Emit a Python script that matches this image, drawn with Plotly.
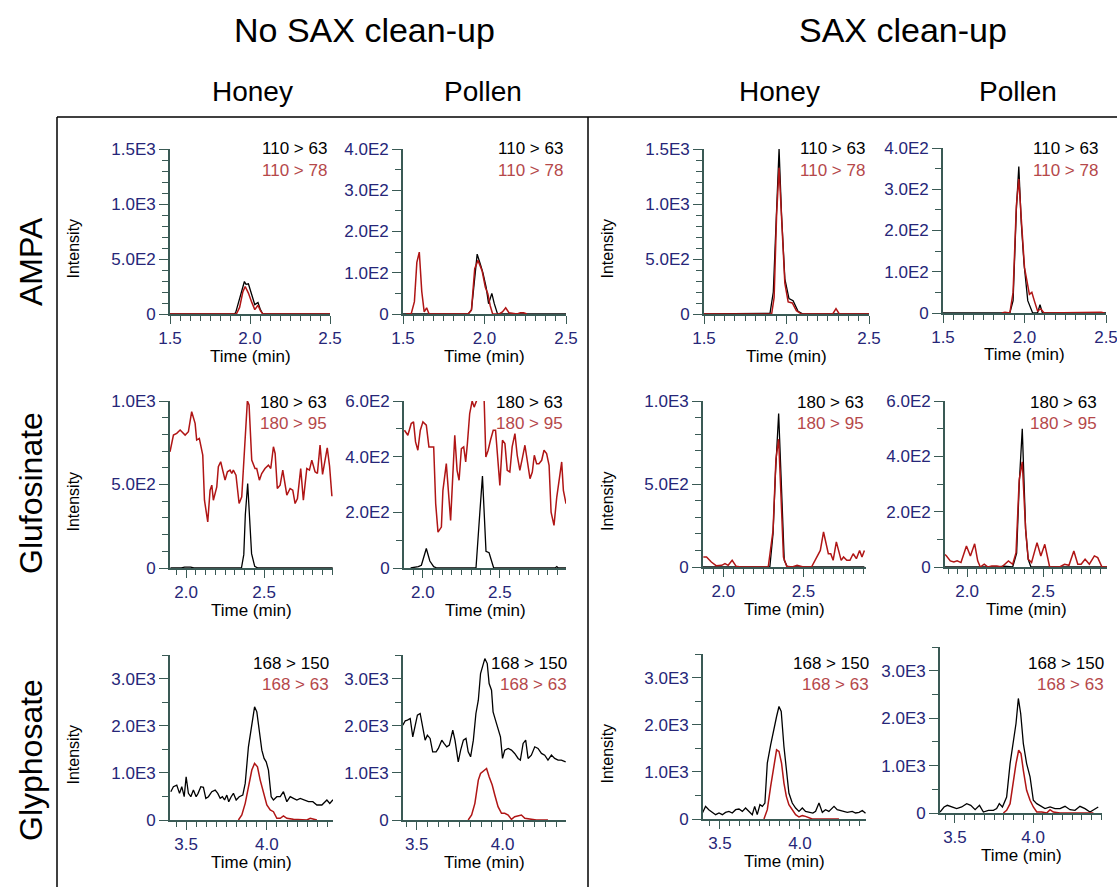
import math
import plotly.graph_objects as go

W, H = 1117, 887

# ---------------- DATA ----------------
# AMPA, honey, no SAX (black = 110 > 63, red = 110 > 78)
A_HN_T1 = [1.50, 1.90, 1.91, 1.93, 1.965, 1.975, 1.99, 2.01, 2.03, 2.05, 2.065, 2.08, 2.44, 2.45, 2.46, 2.50]
A_HN_Y1 = [0, 0, 10, 120, 295, 270, 275, 180, 85, 105, 40, 0, 0, 5, 0, 0]
A_HN_T2 = [1.50, 1.915, 1.935, 1.955, 1.97, 1.99, 2.01, 2.03, 2.05, 2.065, 2.08, 2.50]
A_HN_Y2 = [0, 0, 60, 200, 250, 190, 110, 40, 80, 30, 0, 0]

# AMPA, pollen, no SAX
A_PN_T1 = [1.50, 1.90, 1.92, 1.94, 1.955, 1.975, 1.99, 2.01, 2.025, 2.045, 2.06, 2.08, 2.50]
A_PN_Y1 = [0, 0, 10, 90, 145, 120, 100, 65, 25, 50, 25, 0, 0]
A_PN_T2 = [1.52, 1.55, 1.57, 1.585, 1.60, 1.615, 1.63, 1.645, 1.66, 1.90, 1.92, 1.94, 1.96, 1.985, 2.005,
           2.02, 2.035, 2.05, 2.09, 2.11, 2.13, 2.15, 2.20, 2.22, 2.24, 2.26]
A_PN_Y2 = [0, 0, 30, 125, 150, 55, 5, 15, 0, 0, 10, 110, 130, 105, 65, 50, 20, 0, 0, 5, 15, 3, 0, 3, 3, 0]

# AMPA, honey, SAX
A_HS_T1 = [1.50, 1.88, 1.90, 1.92, 1.94, 1.955, 1.97, 1.99, 2.015, 2.04, 2.07, 2.10, 2.50]
A_HS_Y1 = [0, 0, 5, 200, 1000, 1500, 900, 320, 140, 120, 25, 0, 0]
A_HS_T2 = [1.50, 1.91, 1.925, 1.94, 1.955, 1.97, 1.99, 2.01, 2.035, 2.06, 2.09, 2.28, 2.30, 2.32, 2.50]
A_HS_Y2 = [0, 0, 150, 900, 1330, 850, 280, 110, 100, 30, 0, 0, 48, 0, 0]

# AMPA, pollen, SAX
A_PS_T1 = [1.50, 1.91, 1.93, 1.95, 1.965, 1.98, 1.997, 2.02, 2.05, 2.08, 2.095, 2.11, 2.50]
A_PS_Y1 = [0, 0, 30, 250, 355, 220, 120, 30, 0, 0, 20, 0, 0]
A_PS_T2 = [1.86, 1.88, 1.91, 1.93, 1.95, 1.965, 1.98, 2.00, 2.03, 2.045, 2.06, 2.08, 2.10, 2.12, 2.47, 2.49]
A_PS_Y2 = [0, 2, 0, 50, 260, 325, 230, 110, 45, 50, 30, 5, 10, 0, 2, 0]

# Glufosinate, honey, no SAX (black = 180 > 63, red = 180 > 95)
G_HN_T1 = [1.90, 1.97, 1.99, 2.03, 2.05, 2.355, 2.37, 2.38, 2.395, 2.42, 2.44, 2.46, 2.94]
G_HN_Y1 = [0, 0, 5, 5, 0, 0, 80, 320, 505, 86, 10, 0, 0]
G_HN_T2 = [1.897, 1.919, 1.94, 1.962, 1.994, 2.015, 2.036, 2.058, 2.068, 2.085, 2.107, 2.118, 2.139, 2.154,
           2.165, 2.175, 2.197, 2.207, 2.222, 2.239, 2.25, 2.265, 2.282, 2.293, 2.303, 2.32, 2.34, 2.357,
           2.374, 2.393, 2.404, 2.421, 2.442, 2.453, 2.47, 2.485, 2.506, 2.528, 2.543, 2.56, 2.571, 2.585,
           2.603, 2.62, 2.646, 2.667, 2.684, 2.699, 2.714, 2.735, 2.752, 2.774, 2.791, 2.806, 2.827, 2.842,
           2.859, 2.875, 2.89, 2.905, 2.92, 2.935]
G_HN_Y2 = [696, 796, 806, 826, 796, 816, 936, 866, 766, 776, 676, 406, 276, 466,
           496, 406, 486, 606, 636, 576, 526, 576, 586, 566, 586, 556, 386, 426,
           726, 1000, 976, 646, 596, 596, 526, 566, 596, 616, 596, 726, 686, 476,
           496, 586, 436, 476, 466, 386, 416, 596, 406, 596, 586, 646, 576, 566,
           736, 560, 640, 720, 610, 430]

# Glufosinate, pollen, no SAX
G_PN_T1 = [1.92, 1.97, 1.99, 2.022, 2.045, 2.07, 2.09, 2.345, 2.37, 2.387, 2.41, 2.43, 2.46, 2.86, 2.87, 2.88, 2.93]
G_PN_Y1 = [0, 5, 10, 70, 25, 5, 0, 0, 200, 330, 60, 55, 0, 0, 5, 0, 0]
G_PN_T2 = [1.88, 1.902, 1.924, 1.939, 1.952, 1.967, 1.983, 2.0, 2.022, 2.039, 2.054, 2.07, 2.083, 2.098,
           2.12, 2.13, 2.152, 2.167, 2.18, 2.207, 2.222, 2.235, 2.25, 2.265, 2.278, 2.289, 2.304, 2.32,
           2.333, 2.348, 2.36, 2.375, 2.385, 2.396, 2.409, 2.424, 2.439, 2.457, 2.472, 2.489, 2.5, 2.517,
           2.533, 2.548, 2.565, 2.58, 2.598, 2.613, 2.63, 2.648, 2.663, 2.678, 2.696, 2.711, 2.724, 2.739,
           2.754, 2.772, 2.787, 2.804, 2.82, 2.833, 2.852, 2.87, 2.887, 2.902, 2.913, 2.93]
G_PN_Y2 = [495, 477, 519, 525, 453, 423, 495, 525, 513, 435, 435, 435, 231, 129,
           147, 279, 375, 279, 171, 477, 351, 315, 429, 435, 381, 447, 555, 600,
           578, 600, 650, 680, 660, 640, 399, 423, 459, 495, 495, 375, 297, 459,
           447, 351, 345, 435, 483, 405, 351, 399, 441, 387, 321, 345, 405, 375,
           375, 387, 423, 411, 369, 201, 153, 255, 315, 381, 279, 231]

# Glufosinate, honey, SAX
G_HS_T1 = [1.87, 2.29, 2.31, 2.325, 2.345, 2.365, 2.38, 2.40, 2.88]
G_HS_Y1 = [0, 0, 200, 560, 925, 360, 40, 0, 0]
G_HS_T2 = [1.875, 1.895, 1.925, 1.955, 1.99, 2.01, 2.03, 2.055, 2.08, 2.11, 2.28, 2.31, 2.328, 2.345,
           2.36, 2.375, 2.395, 2.43, 2.46, 2.50, 2.55, 2.585, 2.605, 2.625, 2.645, 2.655, 2.67, 2.685,
           2.705, 2.72, 2.735, 2.75, 2.77, 2.79, 2.81, 2.83, 2.85, 2.865, 2.88]
G_HS_Y2 = [60, 60, 30, 8, 10, 20, 10, 40, 4, 0, 0, 220, 650, 770,
           420, 60, 4, 0, 10, 0, 0, 60, 100, 211, 121, 80, 80, 40,
           151, 100, 40, 60, 40, 40, 80, 50, 100, 60, 100]

# Glufosinate, pollen, SAX
G_PS_T1 = [1.855, 2.20, 2.24, 2.30, 2.326, 2.343, 2.363, 2.385, 2.402, 2.42, 2.92]
G_PS_Y1 = [0, 0, 3, 0, 50, 300, 500, 136, 28, 0, 0]
G_PS_T2 = [1.855, 1.865, 1.89, 1.913, 1.935, 1.96, 1.996, 2.022, 2.05, 2.07, 2.087, 2.113, 2.137, 2.163,
           2.196, 2.228, 2.272, 2.30, 2.322, 2.343, 2.363, 2.385, 2.402, 2.424, 2.46, 2.485, 2.511, 2.543,
           2.609, 2.641, 2.67, 2.702, 2.728, 2.75, 2.776, 2.804, 2.837, 2.859, 2.887, 2.92]
G_PS_Y2 = [45, 40, 22, 18, 22, 16, 76, 40, 84, 22, 0, 10, 0, 4,
           4, 0, 22, 10, 52, 316, 380, 136, 28, 16, 88, 40, 82, 0,
           0, 10, 6, 58, 10, 10, 28, 10, 40, 34, 0, 0]

# Glyphosate, honey, no SAX (black = 168 > 150, red = 168 > 63)
P_HN_T1 = [3.405, 3.421, 3.442, 3.459, 3.473, 3.488, 3.5, 3.514, 3.529, 3.545, 3.562, 3.574, 3.591, 3.607,
           3.622, 3.638, 3.659, 3.68, 3.696, 3.711, 3.725, 3.738, 3.752, 3.764, 3.779, 3.793, 3.81, 3.829,
           3.851, 3.866, 3.886, 3.907, 3.924, 3.938, 3.955, 3.969, 3.983, 3.996, 4.01, 4.027, 4.041, 4.062,
           4.083, 4.103, 4.124, 4.145, 4.165, 4.186, 4.207, 4.238, 4.258, 4.285, 4.31, 4.341, 4.372, 4.39,
           4.41]
P_HN_Y1 = [600, 706, 741, 565, 706, 494, 918, 565, 494, 635, 494, 565, 706, 692,
           459, 494, 600, 635, 565, 459, 494, 424, 529, 388, 494, 565, 424, 494,
           529, 776, 1553, 2082, 2400, 2294, 1906, 1482, 1306, 1235, 1059, 494, 424, 494,
           494, 600, 388, 494, 459, 424, 459, 424, 388, 388, 318, 318, 424, 350,
           430]
P_HN_T2 = [3.824, 3.845, 3.866, 3.886, 3.907, 3.924, 3.942, 3.959, 3.979, 4.0, 4.021, 4.041, 4.062, 4.083,
           4.103, 4.124, 4.165, 4.248, 4.269, 4.31]
P_HN_Y2 = [0, 106, 353, 706, 1059, 1200, 1130, 847, 565, 318, 212, 176, 35, 35,
           85, 35, 14, 0, 35, 0]

# Glyphosate, pollen, no SAX
P_PN_T1 = [3.419, 3.433, 3.446, 3.462, 3.477, 3.49, 3.504, 3.52, 3.535, 3.549, 3.562, 3.578, 3.593, 3.613,
           3.626, 3.646, 3.659, 3.675, 3.69, 3.71, 3.723, 3.742, 3.756, 3.772, 3.787, 3.8, 3.814, 3.83,
           3.845, 3.859, 3.872, 3.888, 3.897, 3.911, 3.922, 3.936, 3.945, 3.959, 3.974, 3.988, 4.0, 4.013,
           4.033, 4.052, 4.071, 4.091, 4.104, 4.12, 4.135, 4.149, 4.168, 4.188, 4.207, 4.227, 4.246, 4.265,
           4.285, 4.304, 4.324, 4.343, 4.368]
P_PN_Y1 = [2012, 2104, 2118, 2153, 1765, 1977, 2224, 2259, 1977, 1694, 1800, 1730, 1447, 1447,
           1518, 1694, 1624, 1553, 1588, 1906, 1694, 1235, 1482, 1694, 1730, 1447, 1341, 1694,
           2259, 2541, 3106, 3318, 3424, 3318, 2894, 2753, 2294, 2118, 1906, 1765, 1306, 1482,
           1518, 1482, 1412, 1306, 1270, 1624, 1694, 1306, 1376, 1553, 1518, 1412, 1376, 1270,
           1376, 1306, 1270, 1270, 1235]
P_PN_T2 = [3.8, 3.82, 3.839, 3.859, 3.872, 3.892, 3.907, 3.922, 3.94, 3.955, 3.974, 3.994, 4.013, 4.033,
           4.052, 4.071, 4.091, 4.11, 4.13, 4.159, 4.197, 4.265]
P_PN_Y2 = [0, 106, 353, 847, 988, 1059, 1094, 918, 741, 529, 282, 141, 141, 106,
           14, 71, 85, 106, 35, 14, 0, 0]

# Glyphosate, honey, SAX
P_HS_T1 = [3.39, 3.41, 3.43, 3.45, 3.473, 3.494, 3.515, 3.535, 3.556, 3.577, 3.598, 3.619, 3.64, 3.66,
           3.681, 3.702, 3.717, 3.733, 3.75, 3.765, 3.781, 3.796, 3.817, 3.838, 3.854, 3.869, 3.883, 3.9,
           3.915, 3.931, 3.952, 3.973, 3.994, 4.015, 4.035, 4.056, 4.081, 4.098, 4.119, 4.14, 4.16, 4.181,
           4.213, 4.233, 4.265, 4.296, 4.327, 4.348, 4.37, 4.39, 4.41]
P_HS_Y1 = [127, 268, 198, 141, 92, 127, 92, 141, 162, 127, 198, 212, 162, 233,
           162, 92, 268, 92, 304, 268, 339, 1186, 1574, 1962, 2174, 2386, 2280, 1539,
           1045, 551, 339, 233, 162, 233, 162, 141, 127, 162, 339, 141, 198, 162,
           268, 198, 162, 141, 162, 127, 140, 180, 120]
P_HS_T2 = [3.775, 3.796, 3.817, 3.838, 3.854, 3.869, 3.885, 3.9, 3.915, 3.931, 3.952, 3.973, 3.994, 4.015,
           4.035, 4.056, 4.077, 4.14, 4.244]
P_HS_Y2 = [0, 198, 692, 1186, 1468, 1433, 1186, 762, 480, 304, 198, 92, 42, 71,
           56, 21, 0, 0, 0]

# Glyphosate, pollen, SAX
P_PS_T1 = [3.404, 3.43, 3.451, 3.479, 3.511, 3.543, 3.575, 3.601, 3.629, 3.657, 3.682, 3.714, 3.746, 3.767,
           3.784, 3.804, 3.817, 3.831, 3.853, 3.874, 3.891, 3.906, 3.921, 3.938, 3.959, 3.981, 4.002, 4.024,
           4.045, 4.077, 4.109, 4.141, 4.173, 4.205, 4.237, 4.269, 4.301, 4.333, 4.365, 4.397, 4.418]
P_PS_Y1 = [21, 127, 162, 127, 92, 127, 197, 162, 70, 162, 21, 56, 56, 92,
           197, 127, 232, 338, 1042, 1535, 1887, 2415, 2098, 1464, 1042, 760, 268, 197,
           162, 92, 127, 92, 92, 141, 70, 56, 141, 92, 21, 92, 127]
P_PS_T2 = [3.81, 3.831, 3.853, 3.874, 3.891, 3.908, 3.923, 3.938, 3.959, 3.981, 4.002, 4.024, 4.056, 4.088,
           4.109, 4.13, 4.173, 4.387]
P_PS_Y2 = [0, 56, 197, 690, 1042, 1323, 1253, 901, 479, 268, 127, 21, 21, 0,
           70, 21, 0, 0]

ROW_NAMES = ["AMPA", "Glufosinate", "Glyphosate"]
TRANSITIONS = [("110 > 63", "110 > 78"), ("180 > 63", "180 > 95"), ("168 > 150", "168 > 63")]
MATRICES = ["Honey", "Pollen", "Honey", "Pollen"]
GROUPS = ["No SAX clean-up", "SAX clean-up"]

# ---------------- STYLE / LAYOUT ----------------
FONT = "Liberation Sans, Arial, sans-serif"
AXIS_COL = "#3a5a55"
TICK_COL = "#262678"
BLACK = "#000000"
RED = "#b01515"
RED_TXT = "#b5484a"

# panel pixel boxes: (x_left, x_right, y_top, y_zero)
BOXES = [
    [(170, 330, 149, 314), (403, 566, 149, 314), (704, 869, 149, 314), (943, 1106, 148, 313)],
    [(170, 333, 401, 568), (404, 566, 401, 568), (703, 866, 401, 567), (945, 1107, 401, 567)],
    [(170, 333, 655, 820), (403, 566, 655, 820), (703, 866, 654, 819), (940, 1102, 647, 813)],
]
XRANGES = [
    [[1.5, 2.5], [1.5, 2.5], [1.5, 2.5], [1.5, 2.5]],
    [[1.897, 2.942], [1.877, 2.93], [1.873, 2.89], [1.855, 2.92]],
    [[3.40, 4.41], [3.42, 4.37], [3.394, 4.413], [3.404, 4.442]],
]
YMAX = [[1500, 400, 1500, 400], [1000, 600, 1000, 600], [3500, 3500, 3500, 3500]]
YMAJ = [[500, 100, 500, 100], [500, 200, 500, 200], [1000, 1000, 1000, 1000]]
YMIN = [[100, 50, 100, 50], [100, 100, 100, 100], [500, 500, 500, 500]]
LABEL_RIGHT = [[329, 565, 867, 1100], [329, 565, 866, 1099], [331, 569, 871, 1106]]
LABEL_Y = [149, 402, 663]

DATA = [
    [(A_HN_T1, A_HN_Y1, A_HN_T2, A_HN_Y2), (A_PN_T1, A_PN_Y1, A_PN_T2, A_PN_Y2),
     (A_HS_T1, A_HS_Y1, A_HS_T2, A_HS_Y2), (A_PS_T1, A_PS_Y1, A_PS_T2, A_PS_Y2)],
    [(G_HN_T1, G_HN_Y1, G_HN_T2, G_HN_Y2), (G_PN_T1, G_PN_Y1, G_PN_T2, G_PN_Y2),
     (G_HS_T1, G_HS_Y1, G_HS_T2, G_HS_Y2), (G_PS_T1, G_PS_Y1, G_PS_T2, G_PS_Y2)],
    [(P_HN_T1, P_HN_Y1, P_HN_T2, P_HN_Y2), (P_PN_T1, P_PN_Y1, P_PN_T2, P_PN_Y2),
     (P_HS_T1, P_HS_Y1, P_HS_T2, P_HS_Y2), (P_PS_T1, P_PS_Y1, P_PS_T2, P_PS_Y2)],
]


def fx(x):
    return x / W


def fy(y):
    return 1 - y / H


def sci(v):
    if v == 0:
        return "0"
    e = int(math.floor(math.log10(v)))
    return f"{v / 10 ** e:.1f}E{e}"


fig = go.Figure()
layout = {}
annotations = []

idx = 0
for r in range(3):
    for c in range(4):
        idx += 1
        xa = "x" if idx == 1 else f"x{idx}"
        ya = "y" if idx == 1 else f"y{idx}"
        t1, y1, t2, y2 = DATA[r][c]
        fig.add_trace(go.Scatter(x=t1, y=y1, mode="lines", line=dict(color=BLACK, width=1.3),
                                 xaxis=xa, yaxis=ya, showlegend=False, hoverinfo="skip"))
        fig.add_trace(go.Scatter(x=t2, y=y2, mode="lines", line=dict(color=RED, width=1.5),
                                 xaxis=xa, yaxis=ya, showlegend=False, hoverinfo="skip"))
        xl, xr, yt, yb = BOXES[r][c]
        yvals = [v for v in range(0, YMAX[r][c] + 1, YMAJ[r][c]) if v <= 3000]
        suffix = "" if idx == 1 else str(idx)
        layout[f"xaxis{suffix}"] = dict(
            domain=[fx(xl), fx(xr)], anchor=ya, range=XRANGES[r][c], automargin=False,
            ticklabeloverflow="allow",
            showline=True, linecolor=AXIS_COL, linewidth=1.6, showgrid=False, zeroline=False,
            ticks="outside", ticklen=8, tickwidth=1.3, tickcolor=AXIS_COL,
            tickmode="linear", tick0=0, dtick=0.5, tickformat=".1f",
            tickfont=dict(family=FONT, size=17, color=TICK_COL),
            minor=dict(ticks="outside", ticklen=5, tickwidth=1.1, tickcolor=AXIS_COL,
                       tickmode="linear", tick0=0, dtick=0.0625, showgrid=False),
        )
        layout[f"yaxis{suffix}"] = dict(
            domain=[fy(yb), fy(yt)], anchor=xa, range=[0, YMAX[r][c]], automargin=False,
            ticklabeloverflow="allow",
            showline=True, linecolor=AXIS_COL, linewidth=1.6, showgrid=False, zeroline=False,
            ticks="outside", ticklen=9, tickwidth=1.3, tickcolor=AXIS_COL,
            tickmode="array", tickvals=yvals, ticktext=[sci(v) for v in yvals],
            tickfont=dict(family=FONT, size=17, color=TICK_COL),
            minor=dict(ticks="outside", ticklen=6, tickwidth=1.1, tickcolor=AXIS_COL,
                       tickmode="linear", tick0=0, dtick=YMIN[r][c], showgrid=False),
        )
        lr = LABEL_RIGHT[r][c]
        ly = LABEL_Y[r]
        annotations.append(dict(x=fx(lr), y=fy(ly), xref="paper", yref="paper", xanchor="right",
                                yanchor="middle", showarrow=False, text=TRANSITIONS[r][0],
                                font=dict(family=FONT, size=17, color=BLACK)))
        annotations.append(dict(x=fx(lr), y=fy(ly + 21), xref="paper", yref="paper", xanchor="right",
                                yanchor="middle", showarrow=False, text=TRANSITIONS[r][1],
                                font=dict(family=FONT, size=17, color=RED_TXT)))
        annotations.append(dict(x=fx((xl + xr) / 2), y=fy(yb + 42), xref="paper",
                                yref="paper", xanchor="center", yanchor="middle", showarrow=False,
                                text="Time (min)", font=dict(family=FONT, size=17, color=BLACK)))
        if c in (0, 2):
            annotations.append(dict(x=fx(73 if c == 0 else 607), y=fy((yt + yb) / 2 + 17), xref="paper",
                                    yref="paper", xanchor="center", yanchor="middle", showarrow=False,
                                    textangle=-90, text="Intensity",
                                    font=dict(family=FONT, size=16, color=BLACK)))

for gx, g in zip([364, 903], GROUPS):
    annotations.append(dict(x=fx(gx), y=fy(30), xref="paper", yref="paper", xanchor="center",
                            yanchor="middle", showarrow=False, text=g,
                            font=dict(family=FONT, size=34, color=BLACK)))
for mx, m in zip([252, 483, 780, 1018], MATRICES):
    annotations.append(dict(x=fx(mx), y=fy(92), xref="paper", yref="paper", xanchor="center",
                            yanchor="middle", showarrow=False, text=m,
                            font=dict(family=FONT, size=28, color=BLACK)))
for ry, rn in zip([262, 493, 760], ROW_NAMES):
    annotations.append(dict(x=fx(31), y=fy(ry), xref="paper", yref="paper", xanchor="center",
                            yanchor="middle", showarrow=False, text=rn, textangle=-90,
                            font=dict(family=FONT, size=32, color=BLACK)))

shapes = [
    dict(type="line", xref="paper", yref="paper", x0=fx(57), x1=fx(57), y0=fy(117), y1=fy(887),
         line=dict(color="black", width=1.5)),
    dict(type="line", xref="paper", yref="paper", x0=fx(57), x1=fx(1117), y0=fy(117), y1=fy(117),
         line=dict(color="black", width=1.5)),
    dict(type="line", xref="paper", yref="paper", x0=fx(588), x1=fx(588), y0=fy(117), y1=fy(887),
         line=dict(color="black", width=1.5)),
]

fig.update_layout(
    width=W, height=H, margin=dict(l=0, r=0, t=0, b=0, autoexpand=False),
    paper_bgcolor="white", plot_bgcolor="white",
    showlegend=False, annotations=annotations, shapes=shapes,
    font=dict(family=FONT),
    **layout,
)

fig.write_html("out.html", config={"displayModeBar": False},
               post_script="document.body.style.margin='0';document.body.style.padding='0';"
                           "document.body.style.overflow='hidden';")
